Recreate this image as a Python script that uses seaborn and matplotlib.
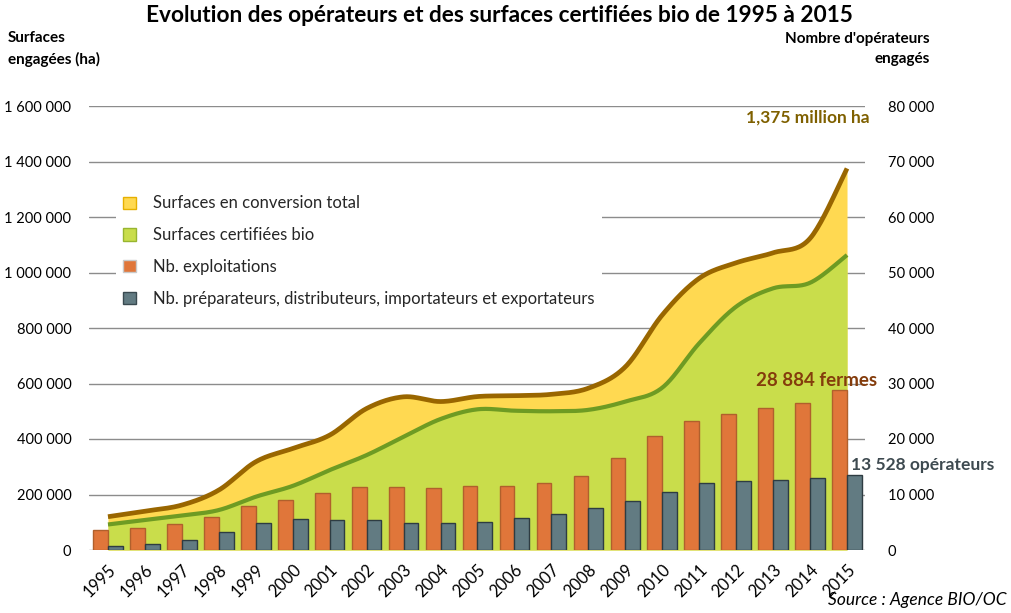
import numpy as np
import pandas as pd
import matplotlib
matplotlib.use("Agg")
import matplotlib.pyplot as plt
from matplotlib.patches import Patch
import seaborn as sns

# --- Données ---
annees = ['1995', '1996', '1997', '1998', '1999', '2000', '2001', '2002', '2003', '2004', '2005',
          '2006', '2007', '2008', '2009', '2010', '2011', '2012', '2013', '2014', '2015']

# surfaces (ha) - axe de gauche
surfaces_totales = [120000, 140000, 162000, 216000, 318000, 366000, 414000, 510000, 552000, 535000, 553000,
                    556000, 561000, 583000, 660000, 847000, 979000, 1035000, 1071000, 1123000, 1375000]
surfaces_bio = [92000, 108000, 124000, 144000, 192000, 231000, 288000, 342000, 408000, 472000, 507000,
                502000, 500000, 505000, 535000, 585000, 745000, 877000, 943000, 963000, 1063000]

# opérateurs - axe de droite
nb_exploitations = [3550, 4000, 4700, 5950, 7870, 9070, 10200, 11300, 11300, 11100, 11480,
                    11600, 12000, 13280, 16500, 20600, 23190, 24450, 25530, 26430, 28884]
nb_preparateurs = [700, 1100, 1750, 3200, 4800, 5530, 5350, 5350, 4800, 4800, 5000,
                   5700, 6430, 7500, 8770, 10400, 12000, 12380, 12560, 12920, 13528]

labels_series = ['Surfaces en conversion total', 'Surfaces certifiées bio',
                 'Nb. exploitations', 'Nb. préparateurs, distributeurs, importateurs et exportateurs']

# --- Couleurs ---
JAUNE = '#FFD951'
BRUN = '#996600'
VERT = '#C9DD4B'
VERT_FONCE = '#6E9B23'
ORANGE = '#E0763A'
GRIS = '#627B82'

FONT = 'Lato'


def lissage(y, n=24):
    # courbe lissée type Excel (Catmull-Rom en Bézier)
    y = np.asarray(y, dtype=float)
    x = np.arange(len(y), dtype=float)
    p = np.column_stack([x, y])
    p = np.vstack([p[0], p, p[-1]])
    xs, ys = [], []
    t = np.linspace(0, 1, n)
    for i in range(1, len(p) - 2):
        p0, p1, p2, p3 = p[i - 1], p[i], p[i + 1], p[i + 2]
        c1 = p1 + (p2 - p0) / 6
        c2 = p2 - (p3 - p1) / 6
        b = ((1 - t) ** 3)[:, None] * p1 + (3 * (1 - t) ** 2 * t)[:, None] * c1 \
            + (3 * (1 - t) * t ** 2)[:, None] * c2 + (t ** 3)[:, None] * p2
        xs.append(b[:, 0])
        ys.append(b[:, 1])
    return np.concatenate(xs), np.concatenate(ys)


def fmt(v):
    return f"{int(v):,}".replace(',', ' ')


sns.set_theme(style='white')
plt.rcParams['font.family'] = [FONT, 'DejaVu Sans']

fig = plt.figure(figsize=(10.12, 6.13), dpi=100)
ax = fig.add_axes([89.5 / 1012, 63 / 613, 776 / 1012, 444 / 613])
ax2 = ax.twinx()

# --- Surfaces (aires + courbes lissées) ---
xt, yt = lissage(surfaces_totales)
xb, yb = lissage(surfaces_bio)
ax.fill_between(xt, 0, yt, color=JAUNE, lw=0, zorder=2)
ax.fill_between(xb, 0, yb, color=VERT, lw=0, zorder=3)
ax.plot(xt, yt, color=BRUN, lw=3.4, zorder=4, solid_capstyle='butt')
ax.plot(xb, yb, color=VERT_FONCE, lw=3.0, zorder=4, solid_capstyle='butt')

ax.set_ylim(0, 1600000)
ax.set_yticks(np.arange(0, 1600001, 200000))
ax.set_yticklabels([fmt(v) for v in np.arange(0, 1600001, 200000)])
ax.grid(axis='y', color='#8C8C8C', lw=1)
ax.grid(axis='x', visible=False)
ax.set_axisbelow(True)

# --- Opérateurs (barres) ---
df_ops = pd.DataFrame({
    'annee': annees * 2,
    'valeur': nb_exploitations + nb_preparateurs,
    'serie': [labels_series[2]] * len(annees) + [labels_series[3]] * len(annees),
})
sns.barplot(data=df_ops, x='annee', y='valeur', hue='serie', ax=ax2,
            palette=[ORANGE, GRIS], saturation=1, width=0.8, legend=False)
for cont, ec in zip(ax2.containers, ['#B0602C', '#2E3C42']):
    for bar in cont:
        bar.set_edgecolor(ec)
        bar.set_linewidth(1)

ax2.set_ylim(0, 80000)
ax2.set_yticks(np.arange(0, 80001, 10000))
ax2.set_yticklabels([fmt(v) for v in np.arange(0, 80001, 10000)])
ax2.grid(False)
ax2.set_ylabel('')
ax2.set_xlabel('')

ax.set_xlim(-0.5, len(annees) - 0.5)
ax.set_xticks(range(len(annees)))
ax.set_xticklabels(annees, rotation=45, ha='right', va='top', rotation_mode='anchor', fontsize=12)
ax.set_xlabel('')

for a in (ax, ax2):
    for s in a.spines.values():
        s.set_visible(False)
ax.tick_params(axis='y', length=0, pad=13, labelsize=10.5, labelcolor='black')
ax2.tick_params(axis='y', length=0, pad=16, labelsize=10.5, labelcolor='black')
ax.tick_params(axis='x', length=0, pad=8, labelcolor='black')

# --- Légende ---
handles = [Patch(facecolor=JAUNE, edgecolor='#E6B000'),
           Patch(facecolor=VERT, edgecolor='#98B530'),
           Patch(facecolor=ORANGE, edgecolor='#C9C9C9'),
           Patch(facecolor=GRIS, edgecolor='#3A4A50')]
leg = ax2.legend(handles, labels_series, loc='upper left',
                 bbox_to_anchor=(116 / 1012, 1 - 188 / 613), bbox_transform=fig.transFigure,
                 frameon=True, facecolor='white', edgecolor='none', framealpha=1, fancybox=False,
                 fontsize=12, handlelength=0.75, handleheight=0.75, handletextpad=1.0,
                 labelspacing=0.95, borderpad=0.45, borderaxespad=0)
leg.set_zorder(10)

# --- Textes ---
def T(x, y, s, **kw):
    fig.text(x / 1012, 1 - y / 613, s, **kw)

T(499, 15, 'Evolution des opérateurs et des surfaces certifiées bio de 1995 à 2015',
  ha='center', va='center', fontsize=16.3, fontweight='bold', color='black')
T(8, 49, 'Surfaces\nengagées (ha)', ha='left', va='center', fontsize=11, fontweight='bold',
  linespacing=1.6, color='black')
T(930, 49, "Nombre d'opérateurs\nengagés", ha='right', va='center', fontsize=11, fontweight='bold',
  linespacing=1.6, color='black', multialignment='right')
T(870, 118, '1,375 million ha', ha='right', va='center', fontsize=12.5, fontweight='bold', color='#7F6000')
T(877, 380, '28 884 fermes', ha='right', va='center', fontsize=13.5, fontweight='bold', color='#843C0C')
T(851, 465, '13 528 opérateurs', ha='left', va='center', fontsize=12.5, fontweight='bold', color='#3E4A50')
T(1007, 600, 'Source : Agence BIO/OC', ha='right', va='center', fontsize=12.5, style='italic', color='black')

fig.savefig('out.png', dpi=100)
